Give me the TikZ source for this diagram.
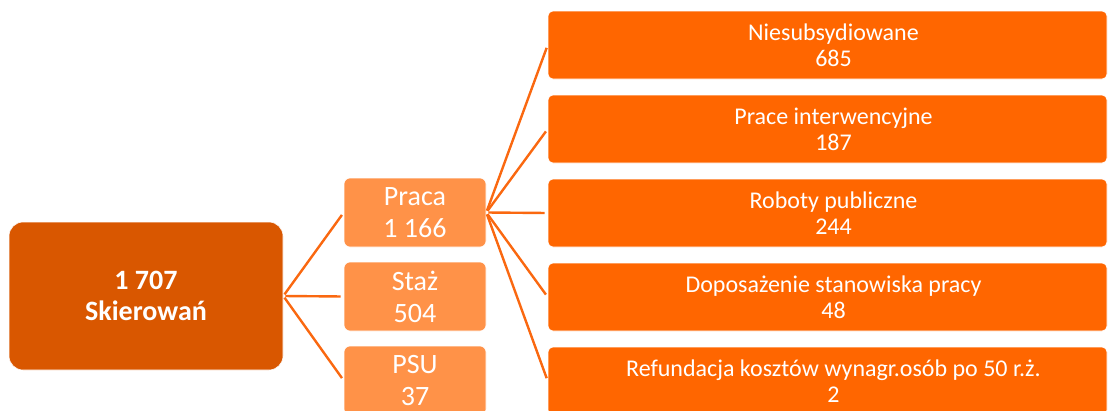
\documentclass[tikz,border=0pt]{standalone}
\usepackage{fontspec}
\setmainfont{Carlito}
\definecolor{rootc}{RGB}{217,87,0}
\definecolor{midc}{RGB}{255,146,72}
\definecolor{leafc}{RGB}{255,102,0}
\definecolor{linec}{RGB}{250,104,16}
\begin{document}
\begin{tikzpicture}[x=1pt,y=-1pt,
  rootbox/.style={fill=rootc, draw=white, line width=0.6pt, rounded corners=14pt,
    minimum width=274pt, minimum height=148pt, text=white,
    font=\fontsize{28}{31}\selectfont\bfseries, align=center, inner sep=0pt},
  midbox/.style={fill=midc, draw=white, line width=0.6pt, rounded corners=6pt,
    minimum width=142pt, minimum height=69pt, text=white,
    font=\fontsize{28}{32}\selectfont, align=center, inner sep=0pt},
  leafbox/.style={fill=leafc, draw=white, line width=0.6pt, rounded corners=5pt,
    minimum width=559pt, minimum height=68pt, inner sep=0pt},
  leaftext/.style={text=white, font=\fontsize{24}{26}\selectfont, align=center, inner sep=0pt},
  link/.style={draw=linec, line width=2.4pt, shorten <=2pt, shorten >=3pt}]
\useasboundingbox (0,0) rectangle (1108,410);
\clip (0,0) rectangle (1108,410);

\node[rootbox] (root) at (146,296) {1 707\\Skierowań};

\node[midbox] (praca) at (415,212.5) {Praca\\1 166};
\node[midbox] (staz) at (415,296.5) {Staż\\504};
\node[midbox] (psu) at (415,380.5) {PSU\\37};

\node[leafbox] (l1) at (827.5,45) {};
\node[leafbox] (l2) at (827.5,129) {};
\node[leafbox] (l3) at (827.5,213) {};
\node[leafbox] (l4) at (827.5,297) {};
\node[leafbox] (l5) at (827.5,381) {};

\node[leaftext] (t1) at ([xshift=6pt]l1.center) {Niesubsydiowane\\685};
\node[leaftext] (t2) at ([xshift=6pt]l2.center) {Prace interwencyjne\\187};
\node[leaftext] (t3) at ([xshift=6pt]l3.center) {Roboty publiczne\\244};
\node[leaftext] (t4) at ([xshift=6pt]l4.center) {Doposażenie stanowiska pracy\\48};
\node[leaftext] (t5) at ([xshift=6pt]l5.center) {Refundacja kosztów wynagr.osób po 50 r.ż.\\2};

\foreach \m in {praca,staz,psu} \draw[link] (root.east) -- (\m.west);
\foreach \l in {l1,l2,l3,l4,l5} \draw[link] (praca.east) -- (\l.west);
\end{tikzpicture}
\end{document}
